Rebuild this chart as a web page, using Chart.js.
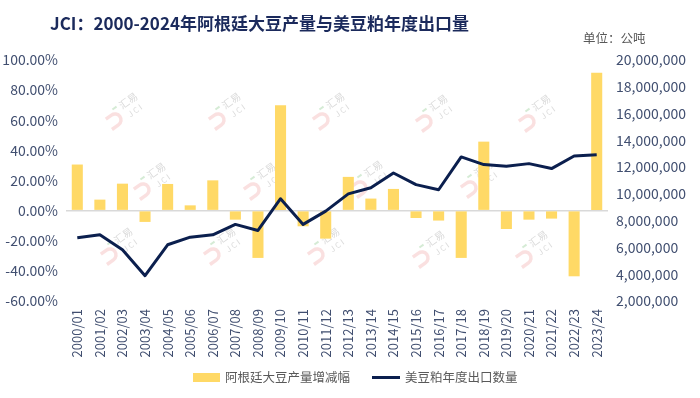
<!DOCTYPE html>
<html>
<head>
<meta charset="utf-8">
<script src="https://cdn.jsdelivr.net/npm/chart.js@4.4.1/dist/chart.umd.min.js"></script>
<style>
  html, body { margin: 0; padding: 0; background: #fff; }
  #wrap { position: relative; width: 700px; height: 398px; font-family: "Noto Sans CJK SC", "Noto Sans", sans-serif; }
  #chart { position: absolute; left: 0; top: 0; }
  .title { position: absolute; left: 50px; top: 13px; font-size: 17px; line-height: 20px; font-weight: 700; color: #1b2a5c; white-space: nowrap; }
  .unit { position: absolute; left: 583px; top: 30px; font-size: 12.5px; line-height: 16px; color: #595959; white-space: nowrap; }
  .legend { position: absolute; top: 369px; font-size: 12.5px; line-height: 16px; color: #595959; white-space: nowrap; }
  .legend .sw { position: absolute; }
</style>
</head>
<body>
<div id="wrap">
  <canvas id="chart" width="700" height="398"></canvas>
  <div class="title">JCI：2000-2024年阿根廷大豆产量与美豆粕年度出口量</div>
  <div class="unit">单位：公吨</div>
  <div class="legend" id="leg-bar" style="left:193px;">
    <span class="sw" style="left:0;top:4px;width:27px;height:9px;background:#FFD966;"></span>
    <span style="margin-left:32px;">阿根廷大豆产量增减幅</span>
  </div>
  <div class="legend" id="leg-line" style="left:372px;">
    <span class="sw" style="left:0;top:7px;width:28px;height:3px;background:#0b1f4e;"></span>
    <span style="margin-left:33px;">美豆粕年度出口数量</span>
  </div>
</div>
<script>
// ── Data ───────────────────────────────────────────────────
const seasons = [
    "2000/01", "2001/02", "2002/03", "2003/04", "2004/05", "2005/06",
    "2006/07", "2007/08", "2008/09", "2009/10", "2010/11", "2011/12",
    "2012/13", "2013/14", "2014/15", "2015/16", "2016/17", "2017/18",
    "2018/19", "2019/20", "2020/21", "2021/22", "2022/23", "2023/24",
];

// Argentina soybean output change, %
const prodChange = [
    30.6, 7.3, 17.9, -7.5, 17.7, 3.5,
    20.1, -6.0, -31.4, 70.0, -10.4, -18.6,
    22.4, 8.0, 14.4, -4.9, -6.6, -31.4,
    45.8, -12.2, -6.0, -5.3, -43.6, 91.5,
];

// US soymeal export volume, tonnes
const mealExports = [
    6720000, 6940000, 5820000, 3890000, 6200000, 6770000,
    6940000, 7720000, 7270000, 9640000, 7720000, 8710000,
    10000000, 10460000, 11560000, 10690000, 10310000, 12760000,
    12190000, 12060000, 12260000, 11890000, 12830000, 12930000,
];

const barLabel  = "阿根廷大豆产量增减幅";
const lineLabel = "美豆粕年度出口数量";

const BAR_COLOR  = "#FFD966";
const LINE_COLOR = "#0b1f4e";
const TICK_COLOR = "#414f70";
const FONT = "'Noto Sans CJK SC', 'Noto Sans', sans-serif";

// ── Watermark (faint JCI logos behind the plot) ────────────
const markSpots = [
    [115, 120], [218, 120], [322, 120], [425, 122], [528, 122],
    [143, 190], [253, 190], [360, 188], [470, 188],
    [110, 255], [213, 255], [317, 255], [422, 258], [525, 258],
];

const watermark = {
    id: "watermark",
    beforeDatasetsDraw(chart) {
        const ctx = chart.ctx;
        markSpots.forEach(([x, y]) => {
            ctx.save();
            ctx.translate(x, y);
            ctx.rotate(-0.62);
            // pink hook
            ctx.strokeStyle = "rgba(240, 165, 165, 0.35)";
            ctx.lineWidth = 3.5;
            ctx.beginPath();
            ctx.moveTo(-7, -6);
            ctx.lineTo(0, -6);
            ctx.arc(0, 0, 6, -Math.PI / 2, Math.PI / 2);
            ctx.lineTo(-8, 6);
            ctx.stroke();
            // green dash
            ctx.strokeStyle = "rgba(150, 205, 150, 0.4)";
            ctx.lineWidth = 2;
            ctx.beginPath();
            ctx.moveTo(4, -10);
            ctx.lineTo(9, -10);
            ctx.stroke();
            // text
            ctx.fillStyle = "rgba(160, 160, 160, 0.4)";
            ctx.font = "10px " + FONT;
            ctx.textBaseline = "middle";
            ctx.fillText("汇易", 12, -8);
            ctx.font = "8px " + FONT;
            ctx.fillText("J C I", 14, 4);
            ctx.restore();
        });
    },
};

// ── Chart ──────────────────────────────────────────────────
const ctx = document.getElementById("chart").getContext("2d");
const chart = new Chart(ctx, {
    type: "bar",
    data: {
        labels: seasons,
        datasets: [
            {
                type: "bar",
                label: barLabel,
                data: prodChange,
                yAxisID: "y",
                backgroundColor: BAR_COLOR,
                borderWidth: 0,
                barPercentage: 0.49,
                categoryPercentage: 1,
                order: 2,
            },
            {
                type: "line",
                label: lineLabel,
                data: mealExports,
                yAxisID: "y1",
                borderColor: LINE_COLOR,
                borderWidth: 3,
                borderJoinStyle: "round",
                pointRadius: 0,
                tension: 0,
                fill: false,
                order: 1,
            },
        ],
    },
    options: {
        responsive: false,
        animation: false,
        layout: { padding: { top: 60, bottom: 37, left: 0, right: 0 } },
        plugins: {
            legend: { display: false },
            tooltip: { enabled: false },
            title: { display: false },
        },
        scales: {
            x: {
                grid: { display: false, drawTicks: false },
                border: { display: false },
                ticks: {
                    color: TICK_COLOR,
                    font: { family: FONT, size: 13 },
                    minRotation: 90,
                    maxRotation: 90,
                    autoSkip: false,
                    padding: 8,
                },
                afterFit(scale) { scale.height = 60; },
            },
            y: {
                position: "left",
                min: -60,
                max: 100,
                grid: {
                    drawTicks: false,
                    color: (c) => (c.tick && c.tick.value === 0 ? "#d9d9d9" : "rgba(0,0,0,0)"),
                    lineWidth: 1.5,
                },
                border: { display: false },
                ticks: {
                    stepSize: 20,
                    color: TICK_COLOR,
                    font: { family: FONT, size: 14 },
                    padding: 8,
                    callback: (v) => v.toFixed(2) + "%",
                },
                afterFit(scale) { scale.width = 66; },
            },
            y1: {
                position: "right",
                min: 2000000,
                max: 20000000,
                grid: { display: false, drawTicks: false },
                border: { display: false },
                ticks: {
                    stepSize: 2000000,
                    color: TICK_COLOR,
                    font: { family: FONT, size: 14 },
                    padding: 8,
                    callback: (v) => v.toLocaleString("en-US"),
                },
                afterFit(scale) { scale.width = 92; },
            },
        },
    },
    plugins: [watermark],
});
</script>
</body>
</html>
